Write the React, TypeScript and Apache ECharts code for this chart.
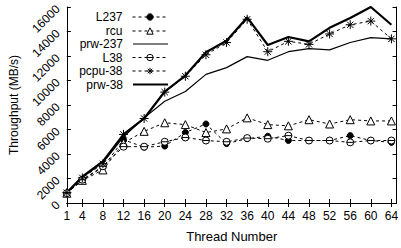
import React, { useEffect, useRef } from "react";
import * as echarts from "echarts";

const threads = [1, 4, 8, 12, 16, 20, 24, 28, 32, 36, 40, 44, 48, 52, 56, 60, 64];
const xTickLabels = [1, 4, 8, 12, 16, 20, 24, 28, 32, 36, 40, 44, 48, 52, 56, 60, 64];

const L237 = [800, 1900, 2900, 5170, 4550, 4650, 5750, 6450, 4850, 5250, 5450, 5100, 5100, 5100, 5500, 5100, 4950];
const rcu = [800, 1850, 2700, 4900, 5850, 6550, 6400, 5750, 6050, 6950, 6400, 6300, 6800, 6450, 6800, 6700, 6700];
const prw237 = [800, 2100, 3300, 5400, 6950, 8300, 9100, 10500, 11050, 11950, 11650, 12350, 12600, 12500, 13100, 13500, 13400];
const L38 = [800, 1900, 3000, 4600, 4600, 5000, 5350, 5100, 5000, 5300, 5250, 5500, 5100, 5100, 4950, 5100, 5100];
const pcpu38 = [850, 2050, 3200, 5600, 6900, 9050, 10350, 12100, 13100, 15000, 12350, 13200, 12950, 13800, 14550, 14850, 13400];
const prw38 = [850, 2150, 3400, 5600, 6900, 9100, 10400, 12300, 13250, 15150, 12900, 13550, 13200, 14300, 15100, 16000, 14550];

const names = ["L237", "rcu", "prw-237", "L38", "pcpu-38", "prw-38"];
const legendCenters = [17, 31, 44, 57.5, 71, 84.5];

const FONT = "Liberation Sans, Arial, Helvetica, sans-serif";

export default function App() {
  const ref = useRef<HTMLDivElement>(null);
  useEffect(() => {
    if (!ref.current) return;
    const chart = echarts.init(ref.current, null, { renderer: "svg" });
    const pair = (arr: number[]) => threads.map((t, i) => [t, arr[i]]);
    const dash = [3, 3];
    const circleBar = "path://M10,5 A5,5 0 1,1 0,5 A5,5 0 1,1 10,5 Z M0,5 L10,5";
    const asterisk = "path://M5,0 L5,10 M0,5 L10,5 M1.5,1.5 L8.5,8.5 M1.5,8.5 L8.5,1.5";
    const openStyle = { color: "#fff", borderColor: "#000", borderWidth: 1 };
    const filledStyle = { color: "#000", borderColor: "#000", borderWidth: 1 };
    const series: any[] = [
      {
        name: "L237", type: "line", data: pair(L237),
        symbol: "circle", symbolSize: 6,
        lineStyle: { color: "#000", width: 1, type: dash },
        itemStyle: filledStyle,
      },
      {
        name: "rcu", type: "line", data: pair(rcu),
        symbol: "triangle", symbolSize: 8,
        lineStyle: { color: "#000", width: 1, type: dash },
        itemStyle: openStyle,
      },
      {
        name: "prw-237", type: "line", data: pair(prw237),
        symbol: "none",
        lineStyle: { color: "#000", width: 1.2, type: "solid" },
        itemStyle: { color: "#000" },
      },
      {
        name: "L38", type: "line", data: pair(L38),
        symbol: circleBar, symbolSize: 7,
        lineStyle: { color: "#000", width: 1, type: dash },
        itemStyle: openStyle,
      },
      {
        name: "pcpu-38", type: "line", data: pair(pcpu38),
        symbol: asterisk, symbolSize: 9,
        lineStyle: { color: "#000", width: 1, type: dash },
        itemStyle: openStyle,
      },
      {
        name: "prw-38", type: "line", data: pair(prw38),
        symbol: "none",
        lineStyle: { color: "#000", width: 2.2, type: "solid" },
        itemStyle: { color: "#000" },
      },
    ];
    const legendItemStyles: any = {
      L237: filledStyle,
      rcu: openStyle,
      L38: openStyle,
      "pcpu-38": openStyle,
      "prw-237": { color: "#000", borderWidth: 0 },
      "prw-38": { color: "#000", borderWidth: 0 },
    };
    const legends = names.map((n, i) => {
      const solid = n.startsWith("prw");
      const h = n === "prw-38" ? 2.2 : n === "prw-237" ? 1.2 : 8;
      return {
        data: solid ? [{ name: n, icon: "rect" }] : [n],
        orient: "vertical",
        align: "right",
        right: 401 - 168,
        top: legendCenters[i] - 6,
        itemWidth: 35,
        itemHeight: h,
        padding: 0,
        selectedMode: false,
        itemStyle: legendItemStyles[n],
        lineStyle: { color: "#000", width: 1, type: dash },
        textStyle: { fontFamily: FONT, fontSize: 12, lineHeight: 12, color: "#000", padding: [0, 5, 0, 0] },
      };
    });
    const axisLine = { show: true, lineStyle: { color: "#000", width: 1 } };
    chart.setOption({
      animation: false,
      backgroundColor: "#fff",
      grid: { left: 61, right: 2, top: 7, bottom: 43, containLabel: false },
      legend: legends,
      xAxis: [
        {
          type: "value", min: 1, max: 65, position: "bottom",
          name: "Thread Number", nameLocation: "middle", nameGap: 27,
          nameTextStyle: { fontFamily: FONT, fontSize: 13, color: "#000" },
          axisLine,
          axisTick: { show: true, inside: true, length: 4, customValues: xTickLabels, lineStyle: { color: "#000" } },
          axisLabel: { customValues: xTickLabels, fontFamily: FONT, fontSize: 12, color: "#000", margin: 7 },
          splitLine: { show: false },
        },
        {
          type: "value", min: 1, max: 65, position: "top",
          axisLine,
          axisTick: { show: true, inside: true, length: 4, customValues: xTickLabels, lineStyle: { color: "#000" } },
          axisLabel: { show: false },
          splitLine: { show: false },
        },
      ],
      yAxis: [
        {
          type: "value", min: 0, max: 16000, interval: 2000, position: "left",
          name: "Throughput (MB/s)", nameLocation: "middle", nameGap: 44, nameRotate: 90,
          nameTextStyle: { fontFamily: FONT, fontSize: 12, color: "#000" },
          axisLine,
          axisTick: { show: true, inside: true, length: 4, lineStyle: { color: "#000" } },
          axisLabel: {
            rotate: 45, fontFamily: FONT, fontSize: 12, color: "#000", margin: 9,
            formatter: (v: number) => String(v),
          },
          splitLine: { show: false },
        },
        {
          type: "value", min: 0, max: 16000, interval: 2000, position: "right",
          axisLine,
          axisTick: { show: true, inside: true, length: 4, lineStyle: { color: "#000" } },
          axisLabel: { show: false },
          splitLine: { show: false },
        },
      ],
      series,
    });
    return () => chart.dispose();
  }, []);
  return <div ref={ref} style={{ width: 401, height: 248, position: "absolute", left: 0, top: 0 }} />;
}
